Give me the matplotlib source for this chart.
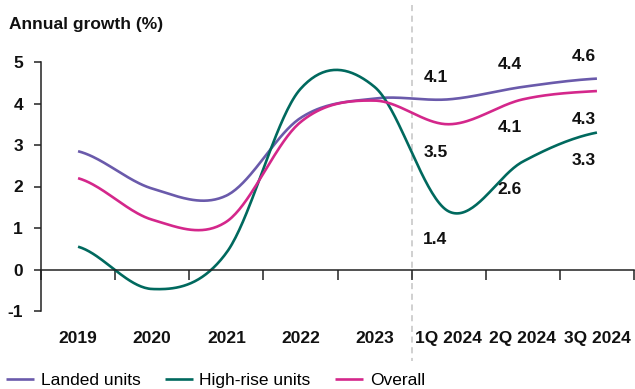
import numpy as np
import matplotlib
matplotlib.use("Agg")
import matplotlib.pyplot as plt
import matplotlib.transforms as mtransforms

plt.rcParams["font.family"] = ["Liberation Sans", "DejaVu Sans"]
plt.rcParams["axes.unicode_minus"] = False

periods = ["2019", "2020", "2021", "2022", "2023", "1Q 2024", "2Q 2024", "3Q 2024"]
landed = [2.85, 1.95, 1.78, 3.65, 4.12, 4.1, 4.4, 4.6]
highrise = [0.55, -0.47, 0.4, 4.35, 4.4, 1.4, 2.6, 3.3]
overall = [2.2, 1.2, 1.15, 3.55, 4.07, 3.5, 4.1, 4.3]

# only the quarterly points get value labels
labelled = [5, 6, 7]

c_landed = "#6a5aab"
c_high = "#00695e"
c_overall = "#d4278b"


def smooth(y, n=40):
    # catmull-rom curve through the points, x spaced by one category
    y = np.asarray(y, dtype=float)
    p = np.concatenate([[y[0]], y, [y[-1]]])
    xs, ys = [], []
    for i in range(len(y) - 1):
        p0, p1, p2, p3 = p[i], p[i + 1], p[i + 2], p[i + 3]
        t = np.linspace(0, 1, n, endpoint=False)
        m1 = (p2 - p0) / 2
        m2 = (p3 - p1) / 2
        h00 = 2 * t**3 - 3 * t**2 + 1
        h10 = t**3 - 2 * t**2 + t
        h01 = -2 * t**3 + 3 * t**2
        h11 = t**3 - t**2
        xs.append(i + t)
        ys.append(h00 * p1 + h10 * m1 + h01 * p2 + h11 * m2)
    xs.append([len(y) - 1])
    ys.append([y[-1]])
    return np.concatenate(xs), np.concatenate(ys)


fig = plt.figure(figsize=(6.35, 3.89), dpi=100)
ax = fig.add_axes([41 / 635, 78 / 389, 593 / 635, 249 / 389])

x = np.arange(len(periods))
for vals, col, name in [(landed, c_landed, "Landed units"),
                        (highrise, c_high, "High-rise units"),
                        (overall, c_overall, "Overall")]:
    sx, sy = smooth(vals)
    ax.plot(sx, sy, color=col, lw=1.9, label=name, solid_capstyle="butt")

# value labels: landed above the line, the other two below
for i in labelled:
    ax.annotate(f"{landed[i]:.1f}", (x[i], landed[i]), xytext=(-9.5, 16),
                textcoords="offset points", ha="center", va="center",
                fontsize=12.5, fontweight="bold", color="#111111")
    ax.annotate(f"{overall[i]:.1f}", (x[i], overall[i]), xytext=(-9.5, -20.5),
                textcoords="offset points", ha="center", va="center",
                fontsize=12.5, fontweight="bold", color="#111111")
    ax.annotate(f"{highrise[i]:.1f}", (x[i], highrise[i]), xytext=(-9.5, -20),
                textcoords="offset points", ha="center", va="center",
                fontsize=12.5, fontweight="bold", color="#111111")

ax.set_xlim(-0.5, len(periods) - 0.5)
ax.set_ylim(-1, 5)

# dashed divider between annual and quarterly figures
trans = mtransforms.blended_transform_factory(ax.transData, ax.transAxes)
ax.plot([4.5, 4.5], [1.23, -0.2], transform=trans, color="#c4c4c4",
        lw=1.1, ls=(0, (4, 3)), clip_on=False, zorder=0)

for s in ["top", "right"]:
    ax.spines[s].set_visible(False)
ax.spines["bottom"].set_position(("data", 0))
ax.spines["left"].set_bounds(-1, 5)
for s in ["left", "bottom"]:
    ax.spines[s].set_linewidth(1.1)
    ax.spines[s].set_color("#222222")

ax.set_yticks(range(-1, 6))
ax.tick_params(axis="y", direction="out", length=5, width=1.1, pad=8,
               labelsize=12.5, colors="#222222")
for lab in ax.get_yticklabels():
    lab.set_fontweight("bold")
    lab.set_color("#111111")

ax.set_xticks(np.arange(len(periods) + 1) - 0.5)
ax.set_xticklabels([])
ax.set_xticks(x, minor=True)
ax.set_xticklabels(periods, minor=True)
ax.tick_params(axis="x", which="major", direction="out", length=7, width=1.1,
               colors="#222222")
ax.tick_params(axis="x", which="minor", length=0, pad=44, labelsize=12.5)
for lab in ax.get_xticklabels(minor=True):
    lab.set_fontweight("bold")
    lab.set_color("#111111")

fig.text(9 / 635, 1 - 25 / 389, "Annual growth (%)", fontsize=12.5,
         fontweight="bold", color="#111111", va="center", ha="left")

fig.legend(loc="center left", bbox_to_anchor=(6 / 635, 1 - 380 / 389),
           ncol=3, frameon=False, fontsize=12.5, handlelength=1.6,
           handletextpad=0.4, columnspacing=1.4, borderpad=0,
           borderaxespad=0)

fig.savefig("out.png", dpi=100)
